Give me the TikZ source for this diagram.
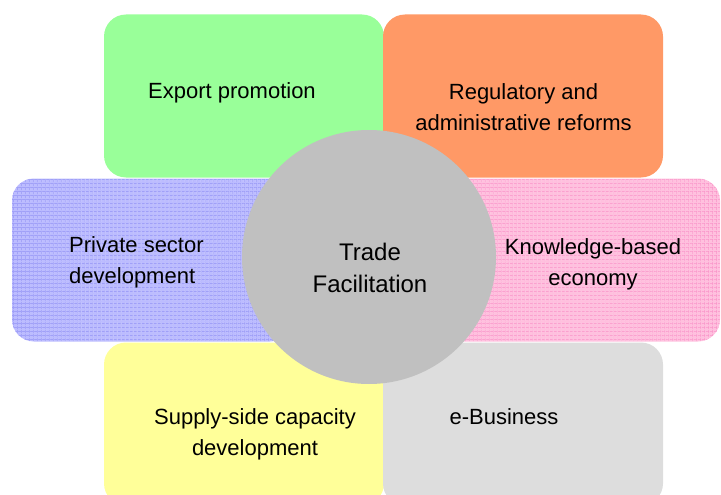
\documentclass[tikz,border=0pt]{standalone}
\usepackage{fontspec}
\setmainfont{Liberation Sans}
\usepackage{tikz}
\usetikzlibrary{patterns.meta}
\definecolor{exportcolor}{RGB}{153, 255, 153}
\definecolor{reformcolor}{RGB}{255, 153, 102}
\definecolor{privatecolor}{RGB}{188, 188, 255}
\definecolor{privategrid}{RGB}{145, 145, 245}
\definecolor{knowcolor}{RGB}{255, 192, 222}
\definecolor{knowgrid}{RGB}{250, 145, 200}
\definecolor{supplycolor}{RGB}{255, 255, 153}
\definecolor{ebizcolor}{RGB}{221, 221, 221}
\definecolor{hubcolor}{RGB}{192, 192, 192}

\begin{document}
\begin{tikzpicture}[x=1pt, y=-1pt,
    panel/.style={rectangle, rounded corners=22pt, minimum width=280pt, minimum height=163pt, inner sep=0pt},
    gridded/.style={postaction={pattern={Lines[angle=0, distance=4pt, line width=0.7pt]}, pattern color=#1},
                    postaction={pattern={Lines[angle=90, distance=4pt, line width=0.7pt]}, pattern color=#1}},
    lbl/.style={font={\fontsize{22}{31}\selectfont}, align=center, inner sep=0pt, anchor=base}]
    \useasboundingbox (0,0) rectangle (721,495);
    % top row
    \node[panel, fill=exportcolor] (export) at (244,96) {};
    \node[panel, fill=reformcolor] (reform) at (523,96) {};
    % middle row
    \node[panel, fill=privatecolor, gridded=privategrid] (private) at (152,260) {};
    \node[panel, fill=knowcolor, gridded=knowgrid] (know) at (580,260) {};
    % bottom row
    \node[panel, fill=supplycolor] (supply) at (244,424) {};
    \node[panel, fill=ebizcolor] (ebiz) at (523,424) {};
    % centre
    \node[circle, fill=hubcolor, minimum size=254pt, inner sep=0pt] (hub) at (369,257) {};

    \node[lbl] (exportlbl) at (232,99) {Export promotion};
    \node[lbl] (reformlbl) at (523.5,130) {Regulatory and\\administrative reforms};
    \node[lbl, align=left, anchor=base west] (privatelbl) at (69,283) {Private sector\\development};
    \node[lbl] (knowlbl) at (593,285) {Knowledge-based\\economy};
    \node[lbl] (supplylbl) at (255,455) {Supply-side capacity\\development};
    \node[lbl] (ebizlbl) at (504,424) {e-Business};
    \node[lbl, font={\fontsize{24}{32}\selectfont}] (hublbl) at (370,292) {Trade\\Facilitation};
\end{tikzpicture}
\end{document}
